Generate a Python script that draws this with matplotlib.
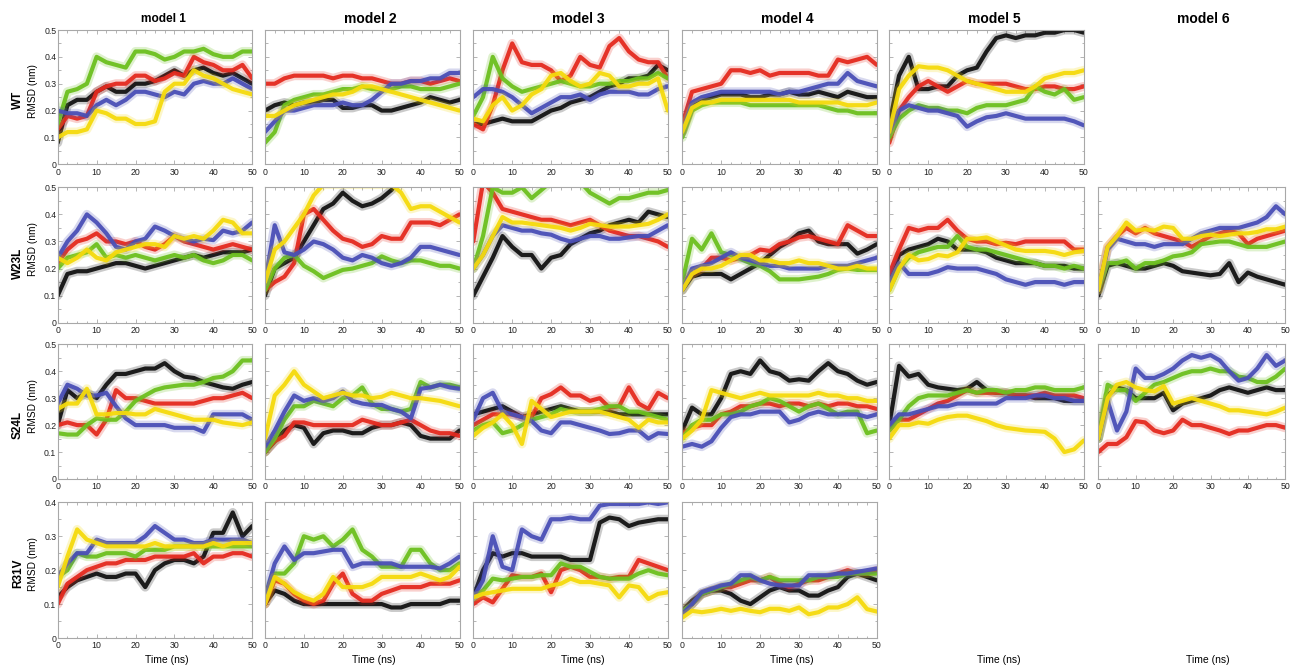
import matplotlib
matplotlib.use('Agg')
import matplotlib.pyplot as plt
from matplotlib.ticker import MultipleLocator, FuncFormatter

plt.rcParams['font.family'] = ['Liberation Sans', 'DejaVu Sans']

# ---------------- data (RMSD in nm, sampled every 2.5 ns) ----------------
TIME = [0, 2.5, 5, 7.5, 10, 12.5, 15, 17.5, 20, 22.5, 25, 27.5, 30,
        32.5, 35, 37.5, 40, 42.5, 45, 47.5, 50]

ROW_NAMES = ["WT", "W23L", "S24L", "R31V"]
COL_NAMES = ["model 1", "model 2", "model 3", "model 4", "model 5", "model 6"]

# WT
wt1_k = [0.08,0.22,0.24,0.24,0.27,0.29,0.27,0.27,0.30,0.30,0.31,0.33,0.35,0.33,0.35,0.36,0.34,0.33,0.34,0.32,0.30]
wt1_r = [0.13,0.18,0.17,0.18,0.27,0.29,0.30,0.30,0.33,0.33,0.31,0.32,0.34,0.33,0.40,0.38,0.37,0.35,0.35,0.37,0.32]
wt1_g = [0.15,0.27,0.28,0.30,0.40,0.38,0.37,0.36,0.42,0.42,0.41,0.39,0.40,0.42,0.42,0.43,0.41,0.40,0.40,0.42,0.42]
wt1_b = [0.20,0.19,0.19,0.18,0.22,0.24,0.22,0.24,0.27,0.27,0.26,0.25,0.27,0.26,0.30,0.31,0.30,0.30,0.32,0.30,0.28]
wt1_y = [0.10,0.12,0.12,0.13,0.20,0.19,0.17,0.17,0.15,0.15,0.16,0.27,0.30,0.30,0.35,0.33,0.32,0.30,0.28,0.27,0.26]

wt2_k = [0.20,0.22,0.23,0.22,0.23,0.23,0.24,0.24,0.21,0.21,0.22,0.22,0.20,0.20,0.21,0.22,0.23,0.25,0.24,0.23,0.24]
wt2_r = [0.30,0.30,0.32,0.33,0.33,0.33,0.33,0.32,0.33,0.33,0.32,0.32,0.31,0.30,0.30,0.31,0.31,0.30,0.31,0.32,0.31]
wt2_g = [0.08,0.12,0.22,0.24,0.25,0.26,0.26,0.27,0.28,0.28,0.29,0.28,0.28,0.28,0.29,0.29,0.28,0.28,0.28,0.29,0.30]
wt2_b = [0.12,0.16,0.20,0.20,0.21,0.22,0.22,0.22,0.23,0.22,0.22,0.24,0.27,0.30,0.30,0.31,0.31,0.32,0.32,0.34,0.34]
wt2_y = [0.18,0.18,0.20,0.22,0.23,0.24,0.25,0.26,0.26,0.27,0.29,0.29,0.28,0.27,0.26,0.25,0.24,0.23,0.22,0.21,0.20]

wt3_k = [0.15,0.15,0.16,0.17,0.16,0.16,0.16,0.18,0.20,0.21,0.23,0.24,0.25,0.27,0.29,0.30,0.32,0.32,0.33,0.37,0.35]
wt3_r = [0.15,0.13,0.22,0.35,0.45,0.38,0.37,0.37,0.35,0.31,0.33,0.40,0.37,0.36,0.44,0.47,0.42,0.39,0.38,0.38,0.32]
wt3_g = [0.18,0.25,0.40,0.32,0.29,0.27,0.28,0.29,0.30,0.31,0.30,0.29,0.29,0.30,0.30,0.31,0.31,0.32,0.32,0.34,0.32]
wt3_b = [0.25,0.28,0.28,0.27,0.25,0.22,0.19,0.21,0.23,0.25,0.25,0.26,0.24,0.26,0.27,0.27,0.27,0.26,0.26,0.28,0.29]
wt3_y = [0.17,0.16,0.22,0.25,0.20,0.22,0.26,0.28,0.33,0.34,0.31,0.29,0.30,0.34,0.33,0.29,0.29,0.30,0.30,0.32,0.20]

wt4_k = [0.12,0.22,0.24,0.25,0.26,0.26,0.26,0.25,0.25,0.26,0.26,0.27,0.26,0.26,0.27,0.26,0.25,0.27,0.26,0.25,0.25]
wt4_r = [0.15,0.27,0.28,0.29,0.30,0.35,0.35,0.34,0.35,0.33,0.34,0.34,0.34,0.34,0.33,0.33,0.39,0.38,0.39,0.40,0.37]
wt4_g = [0.10,0.20,0.22,0.23,0.23,0.23,0.23,0.22,0.22,0.22,0.22,0.22,0.22,0.22,0.22,0.21,0.20,0.20,0.19,0.19,0.19]
wt4_b = [0.12,0.23,0.25,0.26,0.27,0.27,0.27,0.27,0.27,0.27,0.26,0.27,0.27,0.28,0.29,0.30,0.30,0.34,0.31,0.30,0.29]
wt4_y = [0.12,0.21,0.23,0.23,0.24,0.24,0.24,0.24,0.24,0.24,0.24,0.24,0.23,0.23,0.23,0.23,0.23,0.22,0.22,0.22,0.23]

wt5_k = [0.15,0.33,0.40,0.28,0.28,0.29,0.29,0.33,0.35,0.36,0.42,0.47,0.48,0.47,0.48,0.48,0.49,0.49,0.50,0.50,0.49]
wt5_r = [0.08,0.20,0.25,0.29,0.31,0.29,0.27,0.29,0.31,0.30,0.30,0.30,0.30,0.29,0.28,0.28,0.29,0.29,0.28,0.28,0.29]
wt5_g = [0.10,0.17,0.20,0.22,0.21,0.21,0.20,0.20,0.19,0.21,0.22,0.22,0.22,0.23,0.24,0.29,0.27,0.26,0.28,0.24,0.25]
wt5_b = [0.12,0.20,0.22,0.21,0.20,0.20,0.19,0.18,0.14,0.16,0.175,0.18,0.19,0.18,0.17,0.17,0.17,0.17,0.17,0.16,0.145]
wt5_y = [0.12,0.28,0.33,0.365,0.36,0.36,0.35,0.33,0.31,0.30,0.29,0.28,0.27,0.27,0.27,0.29,0.32,0.33,0.34,0.34,0.35]

# W23L
w23l1_k = [0.10,0.18,0.19,0.19,0.20,0.21,0.22,0.22,0.21,0.20,0.21,0.22,0.23,0.24,0.25,0.24,0.25,0.26,0.26,0.26,0.27]
w23l1_r = [0.22,0.27,0.30,0.31,0.33,0.30,0.30,0.29,0.30,0.28,0.27,0.29,0.32,0.30,0.29,0.28,0.27,0.28,0.29,0.28,0.27]
w23l1_g = [0.20,0.24,0.25,0.26,0.29,0.24,0.25,0.24,0.25,0.24,0.23,0.24,0.25,0.24,0.25,0.23,0.22,0.23,0.25,0.25,0.23]
w23l1_b = [0.24,0.30,0.34,0.40,0.37,0.33,0.28,0.27,0.30,0.31,0.355,0.34,0.32,0.31,0.30,0.31,0.305,0.34,0.33,0.34,0.37]
w23l1_y = [0.24,0.22,0.24,0.27,0.24,0.23,0.26,0.27,0.28,0.29,0.29,0.28,0.32,0.31,0.32,0.31,0.34,0.38,0.37,0.33,0.33]

w23l2_k = [0.10,0.20,0.22,0.24,0.30,0.36,0.42,0.44,0.48,0.45,0.43,0.44,0.46,0.49,0.53,0.53,0.53,0.52,0.53,0.53,0.53]
w23l2_r = [0.12,0.15,0.17,0.22,0.40,0.42,0.38,0.34,0.31,0.30,0.28,0.29,0.32,0.31,0.31,0.37,0.37,0.37,0.36,0.38,0.40]
w23l2_g = [0.12,0.20,0.24,0.25,0.21,0.19,0.165,0.18,0.195,0.20,0.21,0.22,0.245,0.23,0.22,0.23,0.23,0.22,0.21,0.21,0.20]
w23l2_b = [0.15,0.36,0.26,0.25,0.27,0.30,0.29,0.27,0.24,0.23,0.25,0.24,0.22,0.21,0.22,0.24,0.28,0.28,0.27,0.26,0.25]
w23l2_y = [0.15,0.27,0.30,0.35,0.40,0.47,0.51,0.51,0.51,0.51,0.51,0.51,0.51,0.51,0.48,0.42,0.43,0.43,0.41,0.39,0.37]

w23l3_k = [0.10,0.17,0.24,0.32,0.28,0.25,0.25,0.20,0.24,0.25,0.29,0.31,0.33,0.34,0.36,0.37,0.38,0.37,0.41,0.40,0.39]
w23l3_r = [0.30,0.52,0.48,0.42,0.41,0.40,0.39,0.38,0.38,0.37,0.36,0.37,0.38,0.36,0.34,0.33,0.32,0.32,0.31,0.30,0.28]
w23l3_g = [0.20,0.32,0.50,0.48,0.48,0.50,0.46,0.49,0.52,0.52,0.52,0.52,0.48,0.46,0.44,0.46,0.46,0.47,0.48,0.48,0.49]
w23l3_b = [0.20,0.25,0.32,0.36,0.35,0.34,0.34,0.33,0.325,0.31,0.30,0.31,0.32,0.32,0.31,0.31,0.315,0.32,0.32,0.34,0.36]
w23l3_y = [0.20,0.25,0.32,0.39,0.37,0.37,0.365,0.36,0.355,0.35,0.34,0.35,0.365,0.36,0.355,0.355,0.355,0.36,0.365,0.38,0.40]

w23l4_k = [0.12,0.17,0.18,0.18,0.18,0.16,0.18,0.20,0.22,0.25,0.28,0.30,0.33,0.34,0.30,0.29,0.29,0.29,0.255,0.27,0.29]
w23l4_r = [0.15,0.18,0.20,0.24,0.24,0.23,0.24,0.25,0.27,0.265,0.29,0.30,0.315,0.32,0.31,0.30,0.29,0.36,0.34,0.32,0.32]
w23l4_g = [0.15,0.31,0.27,0.33,0.26,0.25,0.235,0.22,0.21,0.19,0.16,0.16,0.16,0.165,0.17,0.18,0.195,0.20,0.195,0.195,0.195]
w23l4_b = [0.12,0.20,0.21,0.22,0.24,0.26,0.24,0.23,0.22,0.21,0.21,0.20,0.20,0.20,0.20,0.21,0.21,0.21,0.22,0.23,0.24]
w23l4_y = [0.12,0.18,0.20,0.20,0.21,0.23,0.25,0.25,0.23,0.23,0.22,0.22,0.23,0.22,0.22,0.21,0.20,0.20,0.21,0.20,0.20]

w23l5_k = [0.15,0.25,0.27,0.28,0.29,0.31,0.30,0.27,0.27,0.27,0.26,0.24,0.23,0.22,0.22,0.22,0.21,0.21,0.21,0.20,0.20]
w23l5_r = [0.18,0.27,0.35,0.34,0.35,0.35,0.38,0.34,0.31,0.30,0.30,0.29,0.295,0.29,0.30,0.30,0.30,0.30,0.30,0.27,0.27]
w23l5_g = [0.12,0.20,0.24,0.26,0.27,0.28,0.28,0.32,0.28,0.27,0.27,0.26,0.25,0.24,0.23,0.22,0.21,0.21,0.20,0.21,0.20]
w23l5_b = [0.15,0.22,0.18,0.18,0.18,0.19,0.205,0.20,0.20,0.20,0.19,0.18,0.16,0.15,0.14,0.15,0.15,0.15,0.14,0.15,0.15]
w23l5_y = [0.12,0.20,0.25,0.23,0.235,0.25,0.245,0.26,0.31,0.31,0.315,0.30,0.285,0.27,0.265,0.265,0.265,0.26,0.25,0.26,0.265]

w23l6_k = [0.10,0.21,0.22,0.21,0.20,0.20,0.21,0.22,0.21,0.19,0.185,0.18,0.175,0.18,0.22,0.15,0.185,0.17,0.16,0.15,0.14]
w23l6_r = [0.12,0.28,0.32,0.35,0.33,0.35,0.33,0.32,0.31,0.30,0.28,0.30,0.32,0.33,0.34,0.33,0.29,0.31,0.32,0.33,0.34]
w23l6_g = [0.12,0.22,0.22,0.23,0.20,0.22,0.22,0.23,0.245,0.25,0.26,0.29,0.295,0.30,0.30,0.29,0.28,0.28,0.28,0.29,0.30]
w23l6_b = [0.12,0.27,0.31,0.30,0.29,0.29,0.28,0.29,0.29,0.29,0.31,0.33,0.34,0.35,0.35,0.35,0.36,0.37,0.39,0.43,0.40]
w23l6_y = [0.12,0.28,0.32,0.37,0.34,0.345,0.34,0.355,0.35,0.31,0.31,0.32,0.325,0.32,0.325,0.33,0.33,0.335,0.345,0.345,0.355]

# S24L
s24l1_k = [0.20,0.33,0.30,0.32,0.30,0.35,0.39,0.39,0.40,0.41,0.41,0.43,0.40,0.38,0.375,0.36,0.35,0.34,0.335,0.35,0.36]
s24l1_r = [0.20,0.21,0.20,0.20,0.165,0.22,0.33,0.30,0.30,0.29,0.28,0.28,0.28,0.28,0.28,0.29,0.30,0.30,0.31,0.32,0.30]
s24l1_g = [0.17,0.165,0.165,0.20,0.225,0.22,0.22,0.25,0.29,0.31,0.33,0.34,0.345,0.35,0.35,0.36,0.375,0.38,0.40,0.44,0.44]
s24l1_b = [0.28,0.35,0.335,0.31,0.31,0.32,0.27,0.225,0.20,0.20,0.20,0.20,0.19,0.19,0.19,0.175,0.24,0.24,0.24,0.24,0.22]
s24l1_y = [0.26,0.28,0.28,0.335,0.24,0.24,0.245,0.245,0.24,0.24,0.26,0.25,0.24,0.23,0.22,0.22,0.22,0.21,0.205,0.20,0.21]

s24l2_k = [0.10,0.14,0.18,0.20,0.19,0.13,0.17,0.18,0.18,0.17,0.17,0.19,0.20,0.20,0.21,0.20,0.16,0.15,0.15,0.15,0.18]
s24l2_r = [0.10,0.14,0.16,0.21,0.21,0.20,0.20,0.20,0.20,0.20,0.22,0.21,0.20,0.20,0.21,0.22,0.20,0.18,0.17,0.17,0.16]
s24l2_g = [0.10,0.15,0.22,0.27,0.27,0.29,0.28,0.27,0.30,0.31,0.34,0.28,0.26,0.26,0.25,0.26,0.36,0.34,0.35,0.35,0.34]
s24l2_b = [0.12,0.18,0.25,0.31,0.29,0.30,0.29,0.30,0.325,0.29,0.28,0.275,0.275,0.26,0.25,0.225,0.335,0.34,0.35,0.34,0.335]
s24l2_y = [0.15,0.31,0.35,0.40,0.35,0.325,0.30,0.31,0.32,0.31,0.31,0.30,0.305,0.32,0.31,0.30,0.30,0.295,0.29,0.28,0.27]

s24l3_k = [0.24,0.25,0.26,0.27,0.25,0.23,0.24,0.25,0.26,0.27,0.26,0.25,0.25,0.25,0.25,0.24,0.24,0.24,0.24,0.24,0.24]
s24l3_r = [0.20,0.22,0.24,0.24,0.24,0.23,0.23,0.30,0.315,0.34,0.31,0.31,0.29,0.30,0.265,0.27,0.34,0.28,0.26,0.32,0.30]
s24l3_g = [0.18,0.20,0.21,0.17,0.18,0.20,0.22,0.23,0.24,0.26,0.25,0.25,0.25,0.26,0.27,0.27,0.25,0.25,0.24,0.23,0.22]
s24l3_b = [0.22,0.30,0.32,0.25,0.24,0.23,0.215,0.18,0.17,0.21,0.21,0.20,0.19,0.18,0.167,0.17,0.18,0.18,0.15,0.17,0.167]
s24l3_y = [0.16,0.19,0.21,0.24,0.20,0.13,0.29,0.26,0.23,0.24,0.25,0.25,0.25,0.25,0.24,0.23,0.22,0.19,0.22,0.21,0.21]

s24l4_k = [0.18,0.265,0.24,0.24,0.30,0.39,0.40,0.39,0.44,0.40,0.39,0.365,0.37,0.365,0.40,0.43,0.40,0.39,0.365,0.35,0.36]
s24l4_r = [0.17,0.19,0.20,0.20,0.24,0.25,0.27,0.27,0.28,0.28,0.27,0.28,0.28,0.27,0.28,0.27,0.28,0.28,0.27,0.27,0.26]
s24l4_g = [0.15,0.20,0.22,0.22,0.24,0.24,0.25,0.27,0.28,0.30,0.29,0.27,0.25,0.27,0.28,0.26,0.24,0.25,0.25,0.17,0.18]
s24l4_b = [0.12,0.13,0.12,0.14,0.19,0.23,0.24,0.24,0.25,0.25,0.25,0.21,0.22,0.24,0.25,0.24,0.24,0.24,0.24,0.23,0.24]
s24l4_y = [0.15,0.18,0.22,0.33,0.32,0.31,0.30,0.31,0.32,0.31,0.31,0.31,0.31,0.31,0.32,0.31,0.31,0.30,0.30,0.29,0.29]

s24l5_k = [0.20,0.42,0.38,0.39,0.35,0.34,0.335,0.33,0.335,0.36,0.33,0.32,0.32,0.31,0.31,0.30,0.30,0.30,0.29,0.29,0.29]
s24l5_r = [0.18,0.22,0.22,0.24,0.26,0.28,0.29,0.31,0.33,0.32,0.32,0.32,0.32,0.31,0.31,0.31,0.32,0.31,0.31,0.31,0.30]
s24l5_g = [0.18,0.22,0.27,0.30,0.31,0.31,0.31,0.32,0.33,0.32,0.33,0.33,0.32,0.33,0.33,0.34,0.34,0.33,0.33,0.33,0.34]
s24l5_b = [0.20,0.24,0.24,0.25,0.26,0.27,0.27,0.28,0.28,0.28,0.28,0.28,0.30,0.30,0.30,0.31,0.31,0.30,0.30,0.29,0.29]
s24l5_y = [0.15,0.20,0.20,0.21,0.205,0.22,0.23,0.235,0.235,0.225,0.215,0.20,0.19,0.185,0.18,0.178,0.175,0.15,0.10,0.11,0.143]

s24l6_k = [0.15,0.31,0.34,0.33,0.30,0.30,0.30,0.32,0.255,0.28,0.29,0.30,0.31,0.33,0.34,0.33,0.32,0.33,0.34,0.33,0.33]
s24l6_r = [0.10,0.13,0.13,0.155,0.215,0.21,0.18,0.17,0.18,0.22,0.20,0.20,0.19,0.18,0.167,0.18,0.18,0.19,0.20,0.20,0.19]
s24l6_g = [0.15,0.35,0.33,0.33,0.29,0.32,0.35,0.36,0.375,0.39,0.40,0.40,0.41,0.40,0.40,0.38,0.375,0.36,0.36,0.38,0.41]
s24l6_b = [0.15,0.29,0.18,0.25,0.41,0.375,0.375,0.39,0.41,0.44,0.46,0.45,0.46,0.44,0.40,0.365,0.375,0.41,0.46,0.42,0.44]
s24l6_y = [0.15,0.30,0.35,0.36,0.34,0.33,0.325,0.345,0.28,0.29,0.30,0.29,0.28,0.27,0.255,0.255,0.25,0.245,0.24,0.25,0.265]

# R31V
r31v1_k = [0.12,0.15,0.17,0.18,0.19,0.18,0.18,0.19,0.19,0.15,0.20,0.22,0.23,0.23,0.22,0.24,0.31,0.31,0.37,0.30,0.33]
r31v1_r = [0.10,0.16,0.18,0.20,0.21,0.22,0.22,0.23,0.23,0.23,0.24,0.24,0.24,0.24,0.25,0.22,0.24,0.24,0.25,0.25,0.24]
r31v1_g = [0.18,0.20,0.25,0.24,0.24,0.25,0.25,0.25,0.24,0.26,0.26,0.26,0.27,0.27,0.27,0.27,0.27,0.27,0.27,0.27,0.27]
r31v1_b = [0.18,0.22,0.25,0.25,0.29,0.28,0.28,0.28,0.28,0.30,0.33,0.31,0.29,0.29,0.28,0.28,0.29,0.29,0.29,0.29,0.28]
r31v1_y = [0.15,0.24,0.32,0.29,0.28,0.27,0.27,0.27,0.27,0.27,0.28,0.27,0.27,0.27,0.27,0.27,0.28,0.27,0.28,0.28,0.28]

r31v2_k = [0.10,0.14,0.13,0.11,0.10,0.10,0.10,0.10,0.10,0.10,0.10,0.10,0.10,0.09,0.09,0.10,0.10,0.10,0.10,0.11,0.11]
r31v2_r = [0.10,0.17,0.16,0.13,0.11,0.10,0.11,0.16,0.19,0.13,0.11,0.11,0.13,0.14,0.15,0.15,0.15,0.16,0.16,0.16,0.17]
r31v2_g = [0.12,0.19,0.19,0.22,0.30,0.29,0.30,0.27,0.29,0.32,0.26,0.24,0.21,0.21,0.21,0.26,0.26,0.22,0.20,0.20,0.22]
r31v2_b = [0.12,0.22,0.27,0.23,0.25,0.25,0.255,0.26,0.26,0.21,0.22,0.22,0.22,0.22,0.21,0.21,0.21,0.21,0.205,0.22,0.24]
r31v2_y = [0.10,0.18,0.16,0.135,0.12,0.11,0.13,0.18,0.15,0.15,0.15,0.16,0.18,0.18,0.18,0.18,0.19,0.18,0.17,0.18,0.21]

r31v3_k = [0.12,0.20,0.25,0.24,0.25,0.25,0.24,0.24,0.24,0.24,0.23,0.23,0.23,0.34,0.355,0.35,0.33,0.34,0.345,0.35,0.35]
r31v3_r = [0.10,0.12,0.105,0.145,0.185,0.18,0.18,0.19,0.135,0.20,0.21,0.20,0.18,0.18,0.175,0.18,0.18,0.23,0.22,0.21,0.20]
r31v3_g = [0.12,0.14,0.175,0.17,0.175,0.18,0.18,0.185,0.185,0.22,0.21,0.21,0.195,0.18,0.175,0.175,0.175,0.19,0.20,0.19,0.185]
r31v3_b = [0.12,0.17,0.30,0.21,0.20,0.32,0.30,0.29,0.35,0.35,0.355,0.35,0.35,0.39,0.395,0.395,0.395,0.395,0.40,0.395,0.40]
r31v3_y = [0.12,0.13,0.135,0.14,0.145,0.145,0.145,0.145,0.155,0.16,0.175,0.165,0.165,0.16,0.155,0.12,0.155,0.15,0.115,0.13,0.135]

r31v4_k = [0.08,0.11,0.13,0.14,0.14,0.13,0.11,0.10,0.12,0.14,0.15,0.14,0.14,0.125,0.125,0.14,0.15,0.18,0.19,0.18,0.17]
r31v4_r = [0.08,0.10,0.13,0.14,0.15,0.15,0.16,0.17,0.17,0.18,0.16,0.15,0.16,0.17,0.17,0.18,0.19,0.20,0.19,0.19,0.20]
r31v4_g = [0.08,0.10,0.13,0.14,0.15,0.16,0.17,0.18,0.17,0.18,0.17,0.17,0.17,0.17,0.18,0.18,0.18,0.19,0.19,0.19,0.19]
r31v4_b = [0.07,0.10,0.135,0.145,0.155,0.16,0.185,0.185,0.17,0.16,0.155,0.155,0.155,0.185,0.185,0.185,0.19,0.19,0.195,0.20,0.205]
r31v4_y = [0.06,0.08,0.076,0.08,0.086,0.08,0.086,0.08,0.076,0.086,0.086,0.08,0.09,0.07,0.076,0.09,0.09,0.10,0.12,0.085,0.078]

Y_MAX = [0.5, 0.5, 0.5, 0.4]

PANELS = {
    (0, 0): [wt1_k, wt1_r, wt1_g, wt1_b, wt1_y],
    (0, 1): [wt2_k, wt2_r, wt2_g, wt2_b, wt2_y],
    (0, 2): [wt3_k, wt3_r, wt3_g, wt3_b, wt3_y],
    (0, 3): [wt4_k, wt4_r, wt4_g, wt4_b, wt4_y],
    (0, 4): [wt5_k, wt5_r, wt5_g, wt5_b, wt5_y],
    (1, 0): [w23l1_k, w23l1_r, w23l1_g, w23l1_b, w23l1_y],
    (1, 1): [w23l2_k, w23l2_r, w23l2_g, w23l2_b, w23l2_y],
    (1, 2): [w23l3_k, w23l3_r, w23l3_g, w23l3_b, w23l3_y],
    (1, 3): [w23l4_k, w23l4_r, w23l4_g, w23l4_b, w23l4_y],
    (1, 4): [w23l5_k, w23l5_r, w23l5_g, w23l5_b, w23l5_y],
    (1, 5): [w23l6_k, w23l6_r, w23l6_g, w23l6_b, w23l6_y],
    (2, 0): [s24l1_k, s24l1_r, s24l1_g, s24l1_b, s24l1_y],
    (2, 1): [s24l2_k, s24l2_r, s24l2_g, s24l2_b, s24l2_y],
    (2, 2): [s24l3_k, s24l3_r, s24l3_g, s24l3_b, s24l3_y],
    (2, 3): [s24l4_k, s24l4_r, s24l4_g, s24l4_b, s24l4_y],
    (2, 4): [s24l5_k, s24l5_r, s24l5_g, s24l5_b, s24l5_y],
    (2, 5): [s24l6_k, s24l6_r, s24l6_g, s24l6_b, s24l6_y],
    (3, 0): [r31v1_k, r31v1_r, r31v1_g, r31v1_b, r31v1_y],
    (3, 1): [r31v2_k, r31v2_r, r31v2_g, r31v2_b, r31v2_y],
    (3, 2): [r31v3_k, r31v3_r, r31v3_g, r31v3_b, r31v3_y],
    (3, 3): [r31v4_k, r31v4_r, r31v4_g, r31v4_b, r31v4_y],
}

COLORS = ['#121212', '#e42a1f', '#6cc01f', '#4a4fb6', '#f5da0c']

# ---------------- layout (pixels) ----------------
W, H = 1295, 667
fig = plt.figure(figsize=(W / 100, H / 100), dpi=100)
COL_X = [57.7, 265.0, 473.3, 682.3, 889.3, 1098.3]
COL_W = [194.5, 194.5, 194.5, 194.5, 194.5, 187.0]
ROW_Y = [(30.0, 164.3), (187.3, 322.7), (344.3, 479.0), (502.3, 638.0)]
SPINE = '#a8a8a8'


def yfmt(v, _):
    if abs(v) < 1e-9:
        return '0'
    return f'{v:.1f}'


for (r, c), series in PANELS.items():
    yt, yb = ROW_Y[r]
    ax = fig.add_axes([COL_X[c] / W, 1 - yb / H, COL_W[c] / W, (yb - yt) / H])
    for vals, col in zip(series, COLORS):
        ax.plot(TIME, vals, color=col, lw=6.5, alpha=0.22,
                solid_joinstyle='round', solid_capstyle='round')
        ax.plot(TIME, vals, color=col, lw=3.0, alpha=0.95,
                solid_joinstyle='round', solid_capstyle='round')
    ax.set_xlim(0, 50)
    ax.set_ylim(0, Y_MAX[r])
    ax.xaxis.set_major_locator(MultipleLocator(10))
    ax.xaxis.set_minor_locator(MultipleLocator(2.5))
    ax.yaxis.set_major_locator(MultipleLocator(0.1))
    ax.yaxis.set_minor_locator(MultipleLocator(0.05))
    ax.yaxis.set_major_formatter(FuncFormatter(yfmt))
    ax.tick_params(which='both', direction='in', top=True, right=True,
                   color=SPINE, width=0.6)
    ax.tick_params(which='major', length=2.6)
    ax.tick_params(which='minor', length=1.8)
    ax.tick_params(axis='x', labelsize=6.3, pad=2.5, labelcolor='#222222')
    ax.tick_params(axis='y', labelsize=6.3, pad=1.0, labelcolor='#222222')
    if c != 0:
        ax.tick_params(axis='y', labelleft=False)
    for s in ax.spines.values():
        s.set_color(SPINE)
        s.set_linewidth(0.8)

# column titles and time labels
TITLE_SIZES = [8.6, 10, 10, 10, 10, 10]
for c, name in enumerate(COL_NAMES):
    cx = COL_X[c] + 194.5 / 2 + 8
    fig.text(cx / W, 1 - 19 / H, name, ha='center', va='center',
             fontsize=TITLE_SIZES[c], fontweight='bold')
    tx = COL_X[c] + 194.5 / 2 + 12
    fig.text(tx / W, 1 - 660 / H, 'Time (ns)', ha='center', va='center',
             fontsize=7.5)

# row labels
ROW_LABEL_Y = [100, 263, 425, 573]
for r, name in enumerate(ROW_NAMES):
    yt, yb = ROW_Y[r]
    fig.text(18 / W, 1 - ROW_LABEL_Y[r] / H, name, rotation=90,
             ha='center', va='center', fontsize=8.5, fontweight='bold')
    fig.text(33 / W, 1 - ((yt + yb) / 2 - 6) / H, 'RMSD (nm)', rotation=90,
             ha='center', va='center', fontsize=7.3)

fig.savefig('out.png', dpi=100)
